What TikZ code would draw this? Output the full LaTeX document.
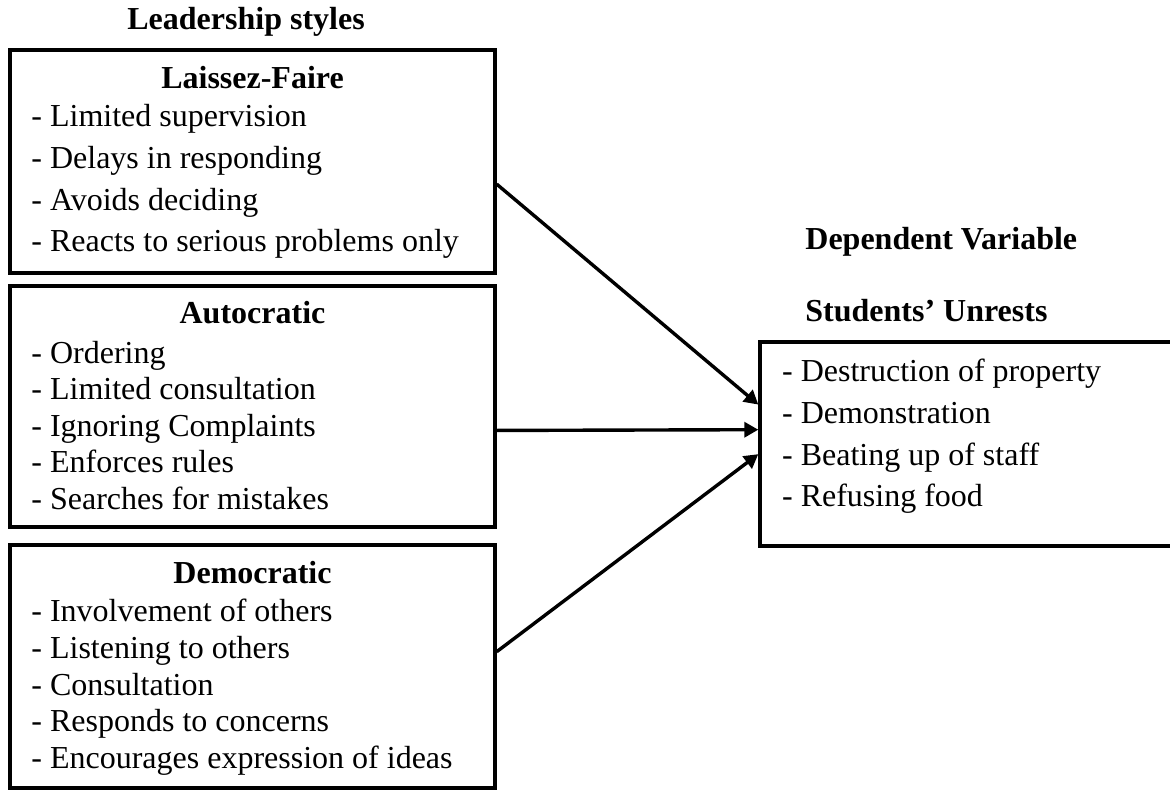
\documentclass[tikz,border=0pt]{standalone}
\usepackage{fontspec}
\setmainfont{Liberation Serif}
\usetikzlibrary{arrows.meta,calc,fit}

\begin{document}
\begin{tikzpicture}[x=0.5pt, y=-0.5pt, >={Triangle[length=7pt, width=7.5pt]},
  box/.style={draw, line width=1.7pt, inner sep=0pt},
  link/.style={->, line width=1.7pt},
  item/.style={anchor=base west, inner sep=0pt, font=\fontsize{16}{19}\selectfont},
  title/.style={anchor=base, inner sep=0pt, font=\fontsize{16}{19}\selectfont\bfseries},
  heading/.style={anchor=base west, inner sep=0pt, font=\fontsize{16}{19}\selectfont\bfseries}]
  \useasboundingbox (0,0) rectangle (1170,795);

  % headings
  \node[heading] (styles) at (127,30) {Leadership styles};
  \node[heading] (dep) at (805,250) {Dependent Variable};
  \node[heading] (unrest) at (805,322) {Students’ Unrests};

  % the three styles
  \node[box, fit={(10,50) (495,273)}] (lf) {};
  \node[title] (lf-t) at ($(lf.north)+(0,40)$) {Laissez-Faire};
  \foreach \t [count=\i] in {Limited supervision, Delays in responding,
      Avoids deciding, Reacts to serious problems only}
    \node[item] (lf-\i) at (31,{126.7+41.7*(\i-1)}) {- \t};

  \node[box, fit={(10,286) (495,527)}] (au) {};
  \node[title] (au-t) at ($(au.north)+(0,39)$) {Autocratic};
  \foreach \t [count=\i] in {Ordering, Limited consultation, Ignoring Complaints,
      Enforces rules, Searches for mistakes}
    \node[item] (au-\i) at (31,{363.3+36.5*(\i-1)}) {- \t};

  \node[box, fit={(10,545) (495,788)}] (dm) {};
  \node[title] (dm-t) at ($(dm.north)+(0,40)$) {Democratic};
  \foreach \t [count=\i] in {Involvement of others, Listening to others,
      Consultation, Responds to concerns, Encourages expression of ideas}
    \node[item] (dm-\i) at (31,{621.7+36.65*(\i-1)}) {- \t};

  % outcome
  \node[box, fit={(760,342) (1190,546)}] (su) {};
  \foreach \t [count=\i] in {Destruction of property, Demonstration,
      Beating up of staff, Refusing food}
    \node[item] (su-\i) at (781.7,{381.7+41.7*(\i-1)}) {- \t};

  \draw[link] ($(lf.north east)!0.6!(lf.south east)$) -- ($(su.north west)!0.31!(su.south west)$);
  \draw[link] ($(au.north east)!0.598!(au.south east)$) -- ($(su.north west)!0.431!(su.south west)$);
  \draw[link] ($(dm.north east)!0.44!(dm.south east)$) -- ($(su.north west)!0.549!(su.south west)$);
\end{tikzpicture}
\end{document}
